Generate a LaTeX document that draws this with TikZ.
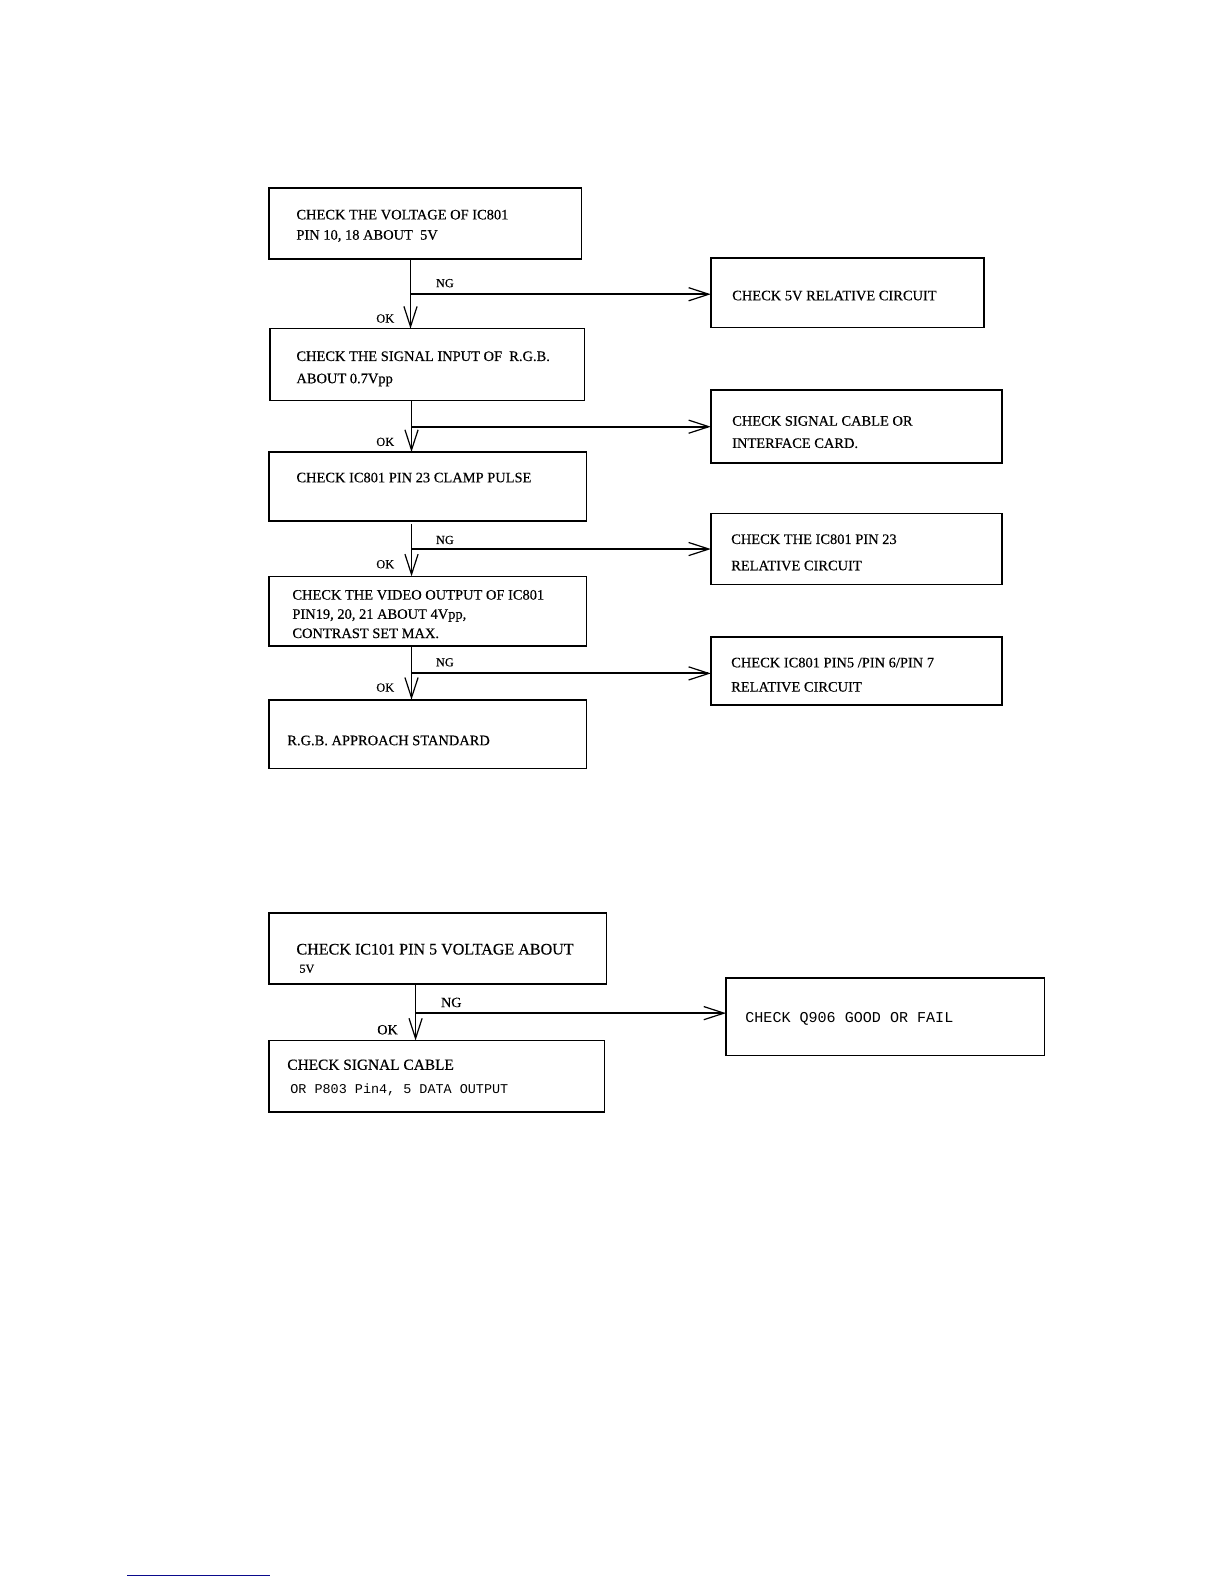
\documentclass[tikz,border=0pt]{standalone}
\usepackage{fontspec}
\setmainfont{Liberation Serif}[FakeBold=0.4]
\newfontfamily\monof{Liberation Mono}
\usetikzlibrary{arrows.meta,calc}
\definecolor{linkblue}{RGB}{10,10,140}
\tikzset{
  box/.style={draw=black, line width=1.6pt, rectangle, inner sep=0pt, outer sep=0pt, anchor=north west},
  txt/.style={anchor=base west, inner sep=0pt, font=\fontsize{14.3}{15}\selectfont},
  txtb/.style={anchor=base west, inner sep=0pt, font=\fontsize{15.9}{16}\selectfont},
  txtm/.style={anchor=base west, inner sep=0pt, font=\monof\fontsize{14.9}{15}\selectfont},
  lbl/.style={anchor=base west, inner sep=0pt, font=\fontsize{12.2}{12}\selectfont},
  conn/.style={draw=black, line width=1.8pt, -{Straight Barb[length=20pt,width=13pt,line width=1.2pt]}},
}
\begin{document}
\begin{tikzpicture}[x=1pt,y=-1pt]
\useasboundingbox (0,0) rectangle (1210.5,1566.6);
% ---------- top flowchart ----------
\node[box, minimum width=309pt, minimum height=70pt] (b1) at (266,186) {};
\node[txt] (b1t1) at (293,217) {CHECK THE VOLTAGE OF IC801};
\node[txt] (b1t2) at (293,237) {PIN 10, 18 ABOUT\ \ 5V};

\node[box, minimum width=270pt, minimum height=69pt] (r1) at (703,255) {};
\node[txt] (r1t) at (724,297) {CHECK 5V RELATIVE CIRCUIT};

\node[box, minimum width=311pt, minimum height=71pt] (b2) at (267,325) {};
\node[txt] (b2t1) at (293,357) {CHECK THE SIGNAL INPUT OF\ \ R.G.B.};
\node[txt] (b2t2) at (293,379) {ABOUT 0.7Vpp};

\node[box, minimum width=288pt, minimum height=72pt] (r2) at (703,386) {};
\node[txt] (r2t1) at (724,421) {CHECK SIGNAL CABLE OR};
\node[txt] (r2t2) at (724,443) {INTERFACE CARD.};

\node[box, minimum width=314pt, minimum height=68pt] (b3) at (266,447) {};
\node[txt] (b3t) at (293,477) {CHECK IC801 PIN 23 CLAMP PULSE};

\node[box, minimum width=288pt, minimum height=70pt] (r3) at (703,508) {};
\node[txt] (r3t1) at (723,538) {CHECK THE IC801 PIN 23};
\node[txt] (r3t2) at (723,564) {RELATIVE CIRCUIT};

\node[box, minimum width=314pt, minimum height=69pt] (b4) at (266,570) {};
\node[txt] (b4t1) at (289,593) {CHECK THE VIDEO OUTPUT OF IC801};
\node[txt] (b4t2) at (289,612) {PIN19, 20, 21 ABOUT 4Vpp,};
\node[txt] (b4t3) at (289,631) {CONTRAST SET MAX.};

\node[box, minimum width=288pt, minimum height=67pt] (r4) at (703,630) {};
\node[txt] (r4t1) at (723,660) {CHECK IC801 PIN5 /PIN 6/PIN 7};
\node[txt] (r4t2) at (723,684) {RELATIVE CIRCUIT};

\node[box, minimum width=314pt, minimum height=68pt] (b5) at (266,692) {};
\node[txt] (b5t) at (284,737) {R.G.B. APPROACH STANDARD};

% connectors top
\coordinate (j1) at ($(b1.south west)+(140,0)$);
\draw[conn] (j1) -- (j1 |- b2.north);
\draw[conn] ($(j1)+(0,35)$) coordinate (h1) -- (h1 -| r1.west);
\node[lbl] (ng1) at (431,284) {NG};
\node[lbl] (ok1) at (372,319) {OK};

\coordinate (j2) at ($(b2.south west)+(140,0)$);
\draw[conn] (j2) -- (j2 |- b3.north);
\draw[conn] (j2 |- r2.west) -- (r2.west);
\node[lbl] (ok2) at (372,441) {OK};

\coordinate (j3) at ($(b3.south west)+(141,3)$);
\draw[conn] (j3) -- (j3 |- b4.north);
\draw[conn] (j3 |- r3.west) -- (r3.west);
\node[lbl] (ng3) at (431,538) {NG};
\node[lbl] (ok3) at (372,562) {OK};

\coordinate (j4) at ($(b4.south west)+(141,0)$);
\draw[conn] (j4) -- (j4 |- b5.north);
\draw[conn] ($(j4)+(0,27)$) coordinate (h4) -- (h4 -| r4.west);
\node[lbl] (ng4) at (431,659) {NG};
\node[lbl] (ok4) at (372,684) {OK};

% ---------- bottom flowchart ----------
\node[box, minimum width=334pt, minimum height=70pt] (c1) at (266,903) {};
\node[txtb] (c1t1) at (293,944) {CHECK IC101 PIN 5 VOLTAGE ABOUT};
\node[txtb, font=\fontsize{12}{12}\selectfont] (c1t2) at (296,962) {5V};

\node[box, minimum width=315pt, minimum height=77pt] (c3) at (718,967) {};
\node[txtm] (c3t) at (737,1011) {CHECK Q906 GOOD OR FAIL};

\node[box, minimum width=332pt, minimum height=71pt] (c2) at (266,1029) {};
\node[txtb, font=\fontsize{15.2}{16}\selectfont] (c2t1) at (284,1058) {CHECK SIGNAL CABLE};
\node[txtm, font=\monof\fontsize{13.3}{14}\selectfont] (c2t2) at (287,1081) {OR P803 Pin4, 5 DATA OUTPUT};

\coordinate (k1) at ($(c1.south west)+(145,0)$);
\draw[conn] (k1) -- (k1 |- c2.north);
\draw[conn] ($(k1)+(0,29)$) coordinate (hk) -- (hk -| c3.west);
\node[lbl, font=\fontsize{14}{14}\selectfont] (ngk) at (436,996) {NG};
\node[lbl, font=\fontsize{14}{14}\selectfont] (okk) at (373,1023) {OK};

% footnote rule
\coordinate (fa) at (126,1558);
\coordinate (fb) at (267,1558);
\draw[linkblue, line width=1.6pt] (fa) -- (fb);
\end{tikzpicture}
\end{document}
